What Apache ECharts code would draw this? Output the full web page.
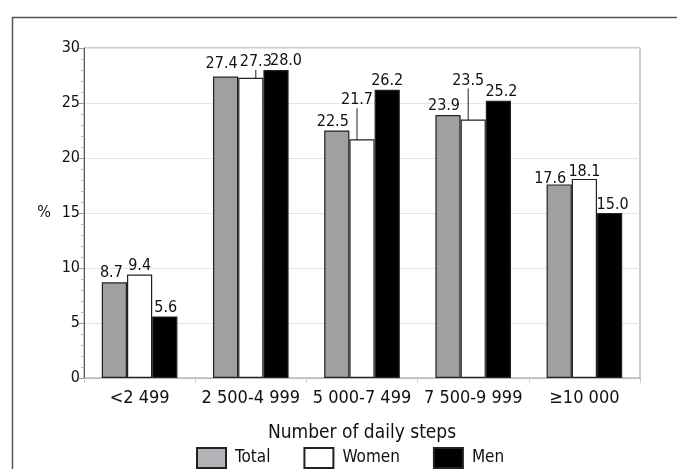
<!DOCTYPE html>
<html><head><meta charset="utf-8">
<script src="https://cdn.jsdelivr.net/npm/echarts@6/dist/echarts.min.js"></script>
<style>html,body{margin:0;padding:0;background:#fff}#c{width:677px;height:469px}</style>
</head><body><div id="c"></div>
<script>
var categories = ['<2 499', '2 500-4 999', '5 000-7 499', '7 500-9 999', '\u226510 000'];
var totalValues = [8.7, 27.4, 22.5, 23.9, 17.6];
var womenValues = [9.4, 27.3, 21.7, 23.5, 18.1];
var menValues = [5.6, 28.0, 26.2, 25.2, 15.0];
// label nudges (px) as placed in the original figure
var totalLabelDx = [-3, -4, -4, -4, -9];
var totalLabelDy = [0, -4, 0, 0, 3];
var womenLabelDx = [0, 5, -5, -5, 0];
var womenLabelDy = [0, -7, -30, -30, 2];
var womenLeader = [false, true, true, true, false];
var menLabelDx = [1, 10, 0, 3, 3];
var menLabelDy = [0, 0, 0, 0, 1];

var FONT = '"Liberation Sans Narrow", "DejaVu Sans Condensed", sans-serif';
var chart = echarts.init(document.getElementById('c'));
var labelStyle = {show: true, position: 'top', distance: 1, color: '#111', fontSize: 16, fontFamily: FONT,
  formatter: function (p) { return p.value.toFixed(1); }};
function nudge(dx, dy) {
  return function (p) { return {dx: dx[p.dataIndex], dy: dy[p.dataIndex]}; };
}
var womenData = womenValues.map(function (v, i) {
  return {value: v, labelLine: {show: womenLeader[i]}};
});
chart.setOption({
  animation: false,
  graphic: [{type: 'rect', left: 10, top: 15, shape: {width: 720, height: 520},
    style: {fill: 'none', stroke: '#555', lineWidth: 1.5}, z: -1}],
  grid: {left: 84, right: 37, top: 48, bottom: 91, show: true, borderColor: '#999', borderWidth: 1},
  legend: {bottom: -5, left: 191, itemWidth: 29, itemHeight: 20, itemGap: 33, icon: 'rect',
    textStyle: {fontFamily: FONT, fontSize: 17, color: '#111', padding: [0, 0, 0, 4]},
    data: [{name: 'Total', itemStyle: {color: '#b4b4b8'}}, 'Women', 'Men']},
  xAxis: {type: 'category', data: categories,
    axisLine: {lineStyle: {color: '#bbb'}}, axisTick: {show: true, length: 5, lineStyle: {color: '#ccc'}},
    axisLabel: {fontFamily: FONT, fontSize: 18, color: '#111', margin: 11, interval: 0},
    name: 'Number of daily steps', nameLocation: 'middle', nameGap: 46,
    nameTextStyle: {fontFamily: FONT, fontSize: 19, color: '#111'}},
  yAxis: {type: 'value', min: 0, max: 30, interval: 5,
    name: '%', nameLocation: 'middle', nameRotate: 0, nameGap: 33,
    nameTextStyle: {fontFamily: FONT, fontSize: 16, color: '#111'},
    axisLine: {show: true, lineStyle: {color: '#555'}},
    axisTick: {show: true, length: 5, lineStyle: {color: '#999'}},
    minorTick: {show: true, splitNumber: 5, length: 3, lineStyle: {color: '#bbb'}},
    splitLine: {lineStyle: {color: '#e4e4e4'}},
    axisLabel: {fontFamily: FONT, fontSize: 16, color: '#111', margin: 4}},
  series: [
    {name: 'Total', type: 'bar', data: totalValues, barGap: '0%', barCategoryGap: '32%',
      itemStyle: {color: '#a0a0a0', borderColor: '#222', borderWidth: 1.2}, label: labelStyle,
      labelLayout: nudge(totalLabelDx, totalLabelDy)},
    {name: 'Women', type: 'bar', data: womenData,
      itemStyle: {color: '#fff', borderColor: '#222', borderWidth: 1.2}, label: labelStyle,
      labelLine: {show: true, lineStyle: {color: '#222', width: 1}},
      labelLayout: nudge(womenLabelDx, womenLabelDy)},
    {name: 'Men', type: 'bar', data: menValues,
      itemStyle: {color: '#000', borderColor: '#222', borderWidth: 1.2}, label: labelStyle,
      labelLayout: nudge(menLabelDx, menLabelDy)}
  ]
});
</script></body></html>
